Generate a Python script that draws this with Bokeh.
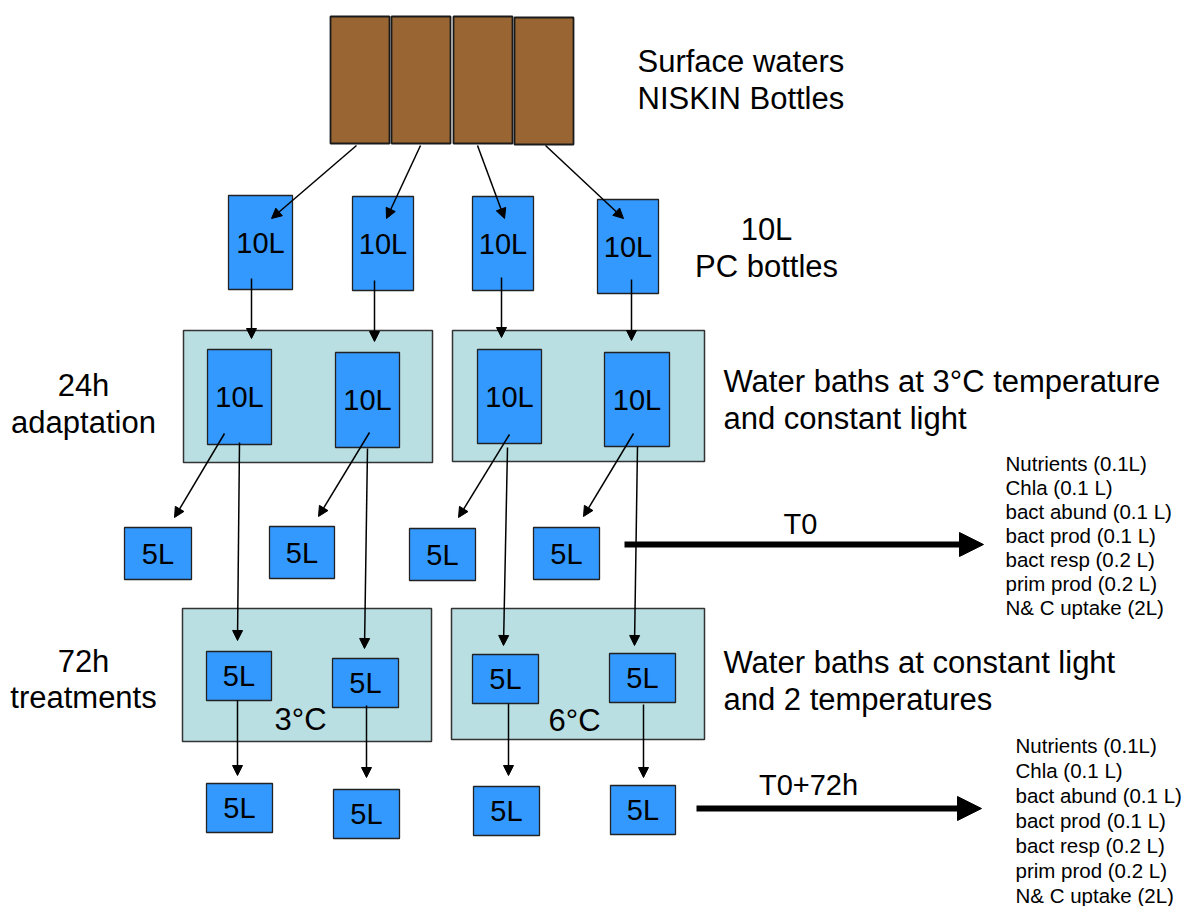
from bokeh.plotting import figure
from bokeh.models import Range1d, Arrow, NormalHead
from bokeh.core.properties import value
from bokeh.embed import file_html
from bokeh.resources import INLINE

FONT = value("Liberation Sans")

# ---- diagram data (image pixel coordinates, y downward) ----
niskin_left = [330, 391, 453, 514]
niskin_right = [389, 450, 512, 573]
niskin_top = [16, 16, 16, 17]
niskin_bottom = [143, 143, 143, 144]

pc_left = [228, 352, 472, 597]
pc_right = [292, 413, 533, 658]
pc_top = [195, 196, 196, 199]
pc_bottom = [289, 290, 290, 293]

bath_left = [183, 452, 182, 451]
bath_right = [432, 704, 431, 704]
bath_top = [330, 330, 608, 608]
bath_bottom = [462, 461, 741, 739]

inner10_left = [207, 335, 477, 604]
inner10_right = [271, 399, 541, 669]
inner10_top = [349, 352, 349, 352]
inner10_bottom = [444, 447, 443, 446]

mid5_left = [124, 269, 409, 533]
mid5_right = [191, 334, 475, 599]
mid5_top = [527, 526, 528, 527]
mid5_bottom = [579, 578, 580, 579]

treat5_left = [206, 332, 472, 609]
treat5_right = [271, 398, 538, 675]
treat5_top = [651, 658, 654, 653]
treat5_bottom = [700, 707, 703, 702]

final5_left = [206, 333, 473, 610]
final5_right = [272, 399, 539, 675]
final5_top = [783, 789, 786, 785]
final5_bottom = [832, 838, 835, 834]

# arrows: (x0, y0, x1, y1)
arrows_thin = [
    (356, 145, 271, 218), (420, 145, 386, 218), (477, 145, 504, 218), (545, 145, 623, 218),
    (251, 278, 251, 338), (374, 280, 374, 341), (501, 277, 501, 337), (631, 279, 631, 340),
    (224, 433, 174, 517), (369, 432, 318, 516), (509, 434, 458, 517), (633, 433, 583, 516),
    (239, 442, 237, 640), (367, 448, 364, 648), (507, 447, 503, 645), (637, 446, 634, 645),
    (237, 700, 237, 775), (366, 705, 366, 777), (508, 703, 508, 775), (643, 704, 643, 777),
]
arrows_thick = [(624, 544, 983, 544), (696, 808, 981, 808)]

time_labels = ["T0", "T0+72h"]
time_x = [800, 808]
time_y = [523, 784]

measure_items = ["Nutrients (0.1L)", "Chla (0.1 L)", "bact abund (0.1 L)", "bact prod (0.1 L)",
                 "bact resp (0.2 L)", "prim prod (0.2 L)", "N& C uptake (2L)"]
list1_x, list1_y0, list1_dy = 1005, 463, 24
list2_x, list2_y0, list2_dy = 1015, 745, 25

left_labels = ["24h", "adaptation", "72h", "treatments"]
left_x = [83, 83, 83, 83]
left_y = [385, 422, 661, 697]

right_labels = ["Surface waters", "NISKIN Bottles", "Water baths at 3°C temperature", "and constant light",
                "Water baths at constant light", "and 2 temperatures"]
right_x = [637, 637, 723, 723, 723, 723]
right_y = [61, 98, 381, 418, 662, 699]

pc_labels = ["10L", "PC bottles"]
pc_lab_x = [766, 766]
pc_lab_y = [229, 266]

temp_labels = ["3°C", "6°C"]
temp_x = [300, 574]
temp_y = [719, 720]

# ---- figure ----
W, H = 1186, 906
p = figure(width=W, height=H, output_backend="svg", toolbar_location=None,
           x_range=Range1d(0, W), y_range=Range1d(H, 0),
           x_axis_type=None, y_axis_type=None, min_border=0)
p.grid.visible = False
p.outline_line_color = None
p.background_fill_color = "white"

# baths
p.quad(left=bath_left, right=bath_right, top=bath_top, bottom=bath_bottom,
       fill_color="#BADFE2", line_color="#333333", line_width=1.5)
# niskin
p.quad(left=niskin_left, right=niskin_right, top=niskin_top, bottom=niskin_bottom,
       fill_color="#996633", line_color="#1a1a1a", line_width=1.8)

BLUE = "#3399FF"
def boxes(l, r, t, b, label):
    p.quad(left=l, right=r, top=t, bottom=b, fill_color=BLUE, line_color="#222222", line_width=1.3)
    cx = [(a + c) / 2 for a, c in zip(l, r)]
    cy = [(a + c) / 2 for a, c in zip(t, b)]
    p.text(x=cx, y=cy, text=[label] * len(l), text_font=FONT, text_font_size="29px",
           text_align="center", text_baseline="middle", text_color="black")

boxes(pc_left, pc_right, pc_top, pc_bottom, "10L")
boxes(inner10_left, inner10_right, inner10_top, inner10_bottom, "10L")
boxes(mid5_left, mid5_right, mid5_top, mid5_bottom, "5L")
boxes(treat5_left, treat5_right, treat5_top, treat5_bottom, "5L")
boxes(final5_left, final5_right, final5_top, final5_bottom, "5L")

# arrows
for (x0, y0, x1, y1) in arrows_thin:
    p.add_layout(Arrow(x_start=x0, y_start=y0, x_end=x1, y_end=y1, line_width=1.5, line_color="black",
                       end=NormalHead(size=10, fill_color="black", line_color="black", line_width=1)))
for (x0, y0, x1, y1) in arrows_thick:
    p.add_layout(Arrow(x_start=x0, y_start=y0, x_end=x1, y_end=y1, line_width=6, line_color="black",
                       end=NormalHead(size=24, fill_color="black", line_color="black", line_width=1)))

# texts
p.text(x=time_x, y=time_y, text=time_labels, text_font=FONT, text_font_size="29px",
       text_align="center", text_baseline="middle")
p.text(x=[list1_x] * 7, y=[list1_y0 + i * list1_dy for i in range(7)], text=measure_items,
       text_font=FONT, text_font_size="20.5px", text_align="left", text_baseline="middle")
p.text(x=[list2_x] * 7, y=[list2_y0 + i * list2_dy for i in range(7)], text=measure_items,
       text_font=FONT, text_font_size="20.5px", text_align="left", text_baseline="middle")
p.text(x=left_x, y=left_y, text=left_labels, text_font=FONT, text_font_size="31px",
       text_align="center", text_baseline="middle")
p.text(x=right_x, y=right_y, text=right_labels, text_font=FONT, text_font_size="31px",
       text_align="left", text_baseline="middle")
p.text(x=pc_lab_x, y=pc_lab_y, text=pc_labels, text_font=FONT, text_font_size="31px",
       text_align="center", text_baseline="middle")
p.text(x=temp_x, y=temp_y, text=temp_labels, text_font=FONT, text_font_size="31px",
       text_align="center", text_baseline="middle")

open("out.html", "w").write(file_html(p, INLINE))
